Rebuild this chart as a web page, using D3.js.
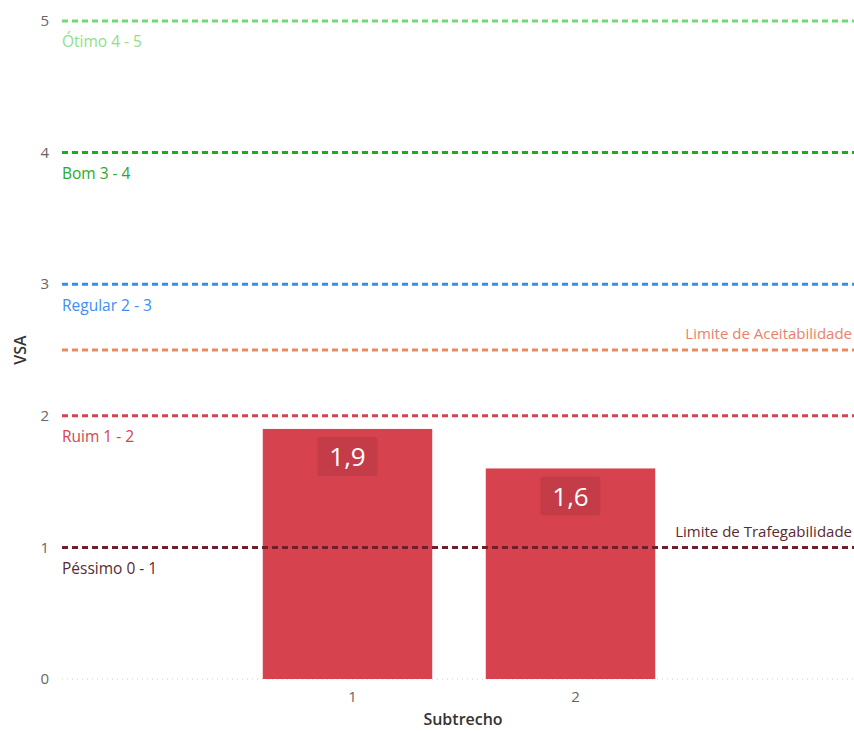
<!DOCTYPE html>
<html><head><meta charset="utf-8">
<script src="https://cdn.jsdelivr.net/npm/d3@7"></script>
<style>body{margin:0;background:#fff;}svg{display:block;font-family:"Open Sans","Noto Sans",sans-serif;}</style>
</head><body>
<svg id="c" width="854" height="731"></svg>
<script>
const categories = ["1", "2"];
const values = [1.9, 1.6];
const yTicks = [0, 1, 2, 3, 4, 5];
const refValues = [5, 4, 3, 2.5, 2, 1];
const refLabels = ["Ótimo 4 - 5", "Bom 3 - 4", "Regular 2 - 3", "Limite de Aceitabilidade", "Ruim 1 - 2", "Limite de Trafegabilidade"];
const refLabelSide = ["left", "left", "left", "right", "left", "right"];
const refLineColors = ["#6fdc6f", "#12b312", "#2f8ff5", "#ea8a5f", "#d6434f", "#6e1f2b"];
const refTextColors = ["#8ee08e", "#2aa82a", "#3b8ef5", "#ec7f6a", "#d6434f", "#5a2a30"];
const extraLabels = [{v: 1, text: "Péssimo 0 - 1", color: "#5a2a30"}];

const svg = d3.select("#c");
const plotL = 62, plotR = 854;
const y = d3.scaleLinear().domain([0, 5]).range([679, 21]);
const x = d3.scaleBand().domain(categories).range([236, 682]).paddingInner(0.24).paddingOuter(0.12);

// y tick labels
svg.append("g").selectAll("text").data(yTicks).join("text")
  .attr("x", 49).attr("y", d => y(d)).attr("dy", "0.35em")
  .attr("text-anchor", "end").attr("font-size", 15).attr("fill", "#666")
  .text(d => d);

// zero gridline
svg.append("line").attr("x1", plotL).attr("x2", plotR).attr("y1", y(0)).attr("y2", y(0))
  .attr("stroke", "#ccc").attr("stroke-width", 1).attr("stroke-dasharray", "1,4");

// bars
const bars = svg.append("g");
bars.selectAll("rect").data(values).join("rect")
  .attr("x", (d, i) => x(categories[i])).attr("width", x.bandwidth())
  .attr("y", d => y(d)).attr("height", d => y(0) - y(d))
  .attr("fill", "#d6434f");

// data labels
const lab = svg.append("g");
values.forEach((v, i) => {
  const cx = x(categories[i]) + x.bandwidth() / 2;
  const top = y(v) + 8;
  lab.append("rect").attr("x", cx - 30).attr("y", top).attr("width", 60).attr("height", 39)
    .attr("rx", 2).attr("fill", "#c43c48");
  lab.append("text").attr("x", cx).attr("y", top + 20).attr("dy", "0.36em")
    .attr("text-anchor", "middle").attr("font-size", 26).attr("fill", "#fff")
    .text(d3.format(".1f")(v).replace(".", ","));
});

// reference lines
const refs = svg.append("g");
refValues.forEach((v, i) => {
  refs.append("line").attr("x1", plotL).attr("x2", plotR).attr("y1", y(v)).attr("y2", y(v))
    .attr("stroke", refLineColors[i]).attr("stroke-width", 3).attr("stroke-dasharray", "6,4");
  if (refLabelSide[i] === "left") {
    refs.append("text").attr("x", plotL).attr("y", y(v) + 21).attr("dy", "0.35em")
      .attr("font-size", 15.5).attr("fill", refTextColors[i]).text(refLabels[i]);
  } else {
    refs.append("text").attr("x", 852).attr("y", y(v) - 16).attr("dy", "0.35em")
      .attr("text-anchor", "end").attr("font-size", 15).attr("fill", refTextColors[i]).text(refLabels[i]);
  }
});
extraLabels.forEach(e => {
  refs.append("text").attr("x", plotL).attr("y", y(e.v) + 21).attr("dy", "0.35em")
    .attr("font-size", 15.5).attr("fill", e.color).text(e.text);
});

// x tick labels
svg.append("g").selectAll("text").data(categories).join("text")
  .attr("x", d => x(d) + x.bandwidth() / 2 + 5).attr("y", 697).attr("dy", "0.35em")
  .attr("text-anchor", "middle").attr("font-size", 15).attr("fill", "#666").text(d => d);

// axis titles
svg.append("text").attr("x", 463).attr("y", 719).attr("dy", "0.35em").attr("text-anchor", "middle")
  .attr("font-size", 16).attr("font-weight", 600).attr("fill", "#333").text("Subtrecho");
svg.append("text").attr("transform", "translate(20,350) rotate(-90)").attr("dy", "0.35em")
  .attr("text-anchor", "middle").attr("font-size", 16).attr("font-weight", 600).attr("fill", "#333").text("VSA");
</script>
</body></html>
